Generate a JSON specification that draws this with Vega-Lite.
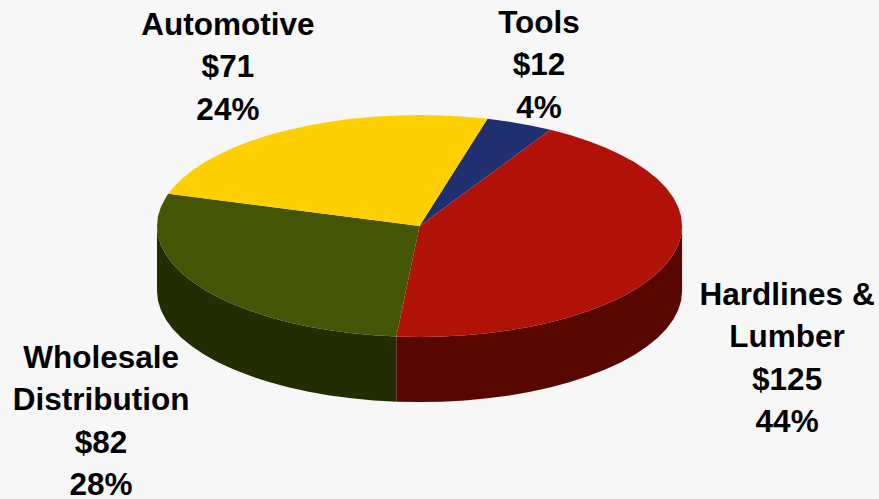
{
"$schema":"https://vega.github.io/schema/vega-lite/v6.json",
"width":879,"height":499,
"autosize":{"type":"none"},
"padding":0,
"background":"#f7f7f7",
"view":{"stroke":null},
"datasets":{
"slices":[
{"slice":"Automotive","label":["Automotive","$71","24%"],"value":71,"share":24,"labelU":-0.73,"labelV":1.802},
{"slice":"Tools","label":["Tools","$12","4%"],"value":12,"share":4,"labelU":0.455,"labelV":1.822},
{"slice":"Hardlines & Lumber","label":["Hardlines &","Lumber","$125","44%"],"value":125,"share":44,"labelU":1.4,"labelV":-0.63},
{"slice":"Wholesale Distribution","label":["Wholesale","Distribution","$82","28%"],"value":82,"share":28,"labelU":-1.213,"labelV":-1.198}
],
"outline":[
{"slice":"Tools","o":0,"u":0,"v":0},
{"slice":"Tools","o":1,"u":0.2588,"v":0.9659},
{"slice":"Tools","o":2,"u":0.342,"v":0.9397},
{"slice":"Tools","o":3,"u":0.4226,"v":0.9063},
{"slice":"Tools","o":4,"u":0.4984,"v":0.8669},

{"slice":"Hardlines & Lumber","o":0,"u":0,"v":0},
{"slice":"Hardlines & Lumber","o":1,"u":0.4984,"v":0.8669},
{"slice":"Hardlines & Lumber","o":2,"u":0.5736,"v":0.8192},
{"slice":"Hardlines & Lumber","o":3,"u":0.6428,"v":0.766},
{"slice":"Hardlines & Lumber","o":4,"u":0.7071,"v":0.7071},
{"slice":"Hardlines & Lumber","o":5,"u":0.766,"v":0.6428},
{"slice":"Hardlines & Lumber","o":6,"u":0.8192,"v":0.5736},
{"slice":"Hardlines & Lumber","o":7,"u":0.866,"v":0.5},
{"slice":"Hardlines & Lumber","o":8,"u":0.9063,"v":0.4226},
{"slice":"Hardlines & Lumber","o":9,"u":0.9397,"v":0.342},
{"slice":"Hardlines & Lumber","o":10,"u":0.9659,"v":0.2588},
{"slice":"Hardlines & Lumber","o":11,"u":0.9848,"v":0.1736},
{"slice":"Hardlines & Lumber","o":12,"u":0.9962,"v":0.0872},
{"slice":"Hardlines & Lumber","o":13,"u":1,"v":0},
{"slice":"Hardlines & Lumber","o":14,"u":0.9962,"v":-0.0872},
{"slice":"Hardlines & Lumber","o":15,"u":0.9848,"v":-0.1736},
{"slice":"Hardlines & Lumber","o":16,"u":0.9659,"v":-0.2588},
{"slice":"Hardlines & Lumber","o":17,"u":0.9397,"v":-0.342},
{"slice":"Hardlines & Lumber","o":18,"u":0.9063,"v":-0.4226},
{"slice":"Hardlines & Lumber","o":19,"u":0.866,"v":-0.5},
{"slice":"Hardlines & Lumber","o":20,"u":0.8192,"v":-0.5736},
{"slice":"Hardlines & Lumber","o":21,"u":0.766,"v":-0.6428},
{"slice":"Hardlines & Lumber","o":22,"u":0.7071,"v":-0.7071},
{"slice":"Hardlines & Lumber","o":23,"u":0.6428,"v":-0.766},
{"slice":"Hardlines & Lumber","o":24,"u":0.5736,"v":-0.8192},
{"slice":"Hardlines & Lumber","o":25,"u":0.5,"v":-0.866},
{"slice":"Hardlines & Lumber","o":26,"u":0.4226,"v":-0.9063},
{"slice":"Hardlines & Lumber","o":27,"u":0.342,"v":-0.9397},
{"slice":"Hardlines & Lumber","o":28,"u":0.2588,"v":-0.9659},
{"slice":"Hardlines & Lumber","o":29,"u":0.1736,"v":-0.9848},
{"slice":"Hardlines & Lumber","o":30,"u":0.0872,"v":-0.9962},
{"slice":"Hardlines & Lumber","o":31,"u":0,"v":-1},
{"slice":"Hardlines & Lumber","o":32,"u":-0.0872,"v":-0.9962},
{"slice":"Hardlines & Lumber","o":33,"u":-0.0884,"v":-0.9961},

{"slice":"Wholesale Distribution","o":0,"u":0,"v":0},
{"slice":"Wholesale Distribution","o":1,"u":-0.0884,"v":-0.9961},
{"slice":"Wholesale Distribution","o":2,"u":-0.1736,"v":-0.9848},
{"slice":"Wholesale Distribution","o":3,"u":-0.2588,"v":-0.9659},
{"slice":"Wholesale Distribution","o":4,"u":-0.342,"v":-0.9397},
{"slice":"Wholesale Distribution","o":5,"u":-0.4226,"v":-0.9063},
{"slice":"Wholesale Distribution","o":6,"u":-0.5,"v":-0.866},
{"slice":"Wholesale Distribution","o":7,"u":-0.5736,"v":-0.8192},
{"slice":"Wholesale Distribution","o":8,"u":-0.6428,"v":-0.766},
{"slice":"Wholesale Distribution","o":9,"u":-0.7071,"v":-0.7071},
{"slice":"Wholesale Distribution","o":10,"u":-0.766,"v":-0.6428},
{"slice":"Wholesale Distribution","o":11,"u":-0.8192,"v":-0.5736},
{"slice":"Wholesale Distribution","o":12,"u":-0.866,"v":-0.5},
{"slice":"Wholesale Distribution","o":13,"u":-0.9063,"v":-0.4226},
{"slice":"Wholesale Distribution","o":14,"u":-0.9397,"v":-0.342},
{"slice":"Wholesale Distribution","o":15,"u":-0.9659,"v":-0.2588},
{"slice":"Wholesale Distribution","o":16,"u":-0.9848,"v":-0.1736},
{"slice":"Wholesale Distribution","o":17,"u":-0.9962,"v":-0.0872},
{"slice":"Wholesale Distribution","o":18,"u":-1,"v":0},
{"slice":"Wholesale Distribution","o":19,"u":-0.9962,"v":0.0872},
{"slice":"Wholesale Distribution","o":20,"u":-0.9848,"v":0.1736},
{"slice":"Wholesale Distribution","o":21,"u":-0.9659,"v":0.2588},
{"slice":"Wholesale Distribution","o":22,"u":-0.957,"v":0.2901},

{"slice":"Automotive","o":0,"u":0,"v":0},
{"slice":"Automotive","o":1,"u":-0.957,"v":0.2901},
{"slice":"Automotive","o":2,"u":-0.9397,"v":0.342},
{"slice":"Automotive","o":3,"u":-0.9063,"v":0.4226},
{"slice":"Automotive","o":4,"u":-0.866,"v":0.5},
{"slice":"Automotive","o":5,"u":-0.8192,"v":0.5736},
{"slice":"Automotive","o":6,"u":-0.766,"v":0.6428},
{"slice":"Automotive","o":7,"u":-0.7071,"v":0.7071},
{"slice":"Automotive","o":8,"u":-0.6428,"v":0.766},
{"slice":"Automotive","o":9,"u":-0.5736,"v":0.8192},
{"slice":"Automotive","o":10,"u":-0.5,"v":0.866},
{"slice":"Automotive","o":11,"u":-0.4226,"v":0.9063},
{"slice":"Automotive","o":12,"u":-0.342,"v":0.9397},
{"slice":"Automotive","o":13,"u":-0.2588,"v":0.9659},
{"slice":"Automotive","o":14,"u":-0.1736,"v":0.9848},
{"slice":"Automotive","o":15,"u":-0.0872,"v":0.9962},
{"slice":"Automotive","o":16,"u":0,"v":1},
{"slice":"Automotive","o":17,"u":0.0872,"v":0.9962},
{"slice":"Automotive","o":18,"u":0.1736,"v":0.9848},
{"slice":"Automotive","o":19,"u":0.2588,"v":0.9659}
],
"wall":[
{"slice":"Hardlines & Lumber","u":1,"v":0,"base":-0.586},
{"slice":"Hardlines & Lumber","u":0.9962,"v":-0.0872,"base":-0.6732},
{"slice":"Hardlines & Lumber","u":0.9848,"v":-0.1736,"base":-0.7596},
{"slice":"Hardlines & Lumber","u":0.9659,"v":-0.2588,"base":-0.8448},
{"slice":"Hardlines & Lumber","u":0.9397,"v":-0.342,"base":-0.928},
{"slice":"Hardlines & Lumber","u":0.9063,"v":-0.4226,"base":-1.0086},
{"slice":"Hardlines & Lumber","u":0.866,"v":-0.5,"base":-1.086},
{"slice":"Hardlines & Lumber","u":0.8192,"v":-0.5736,"base":-1.1596},
{"slice":"Hardlines & Lumber","u":0.766,"v":-0.6428,"base":-1.2288},
{"slice":"Hardlines & Lumber","u":0.7071,"v":-0.7071,"base":-1.2931},
{"slice":"Hardlines & Lumber","u":0.6428,"v":-0.766,"base":-1.352},
{"slice":"Hardlines & Lumber","u":0.5736,"v":-0.8192,"base":-1.4052},
{"slice":"Hardlines & Lumber","u":0.5,"v":-0.866,"base":-1.452},
{"slice":"Hardlines & Lumber","u":0.4226,"v":-0.9063,"base":-1.4923},
{"slice":"Hardlines & Lumber","u":0.342,"v":-0.9397,"base":-1.5257},
{"slice":"Hardlines & Lumber","u":0.2588,"v":-0.9659,"base":-1.5519},
{"slice":"Hardlines & Lumber","u":0.1736,"v":-0.9848,"base":-1.5708},
{"slice":"Hardlines & Lumber","u":0.0872,"v":-0.9962,"base":-1.5822},
{"slice":"Hardlines & Lumber","u":0,"v":-1,"base":-1.586},
{"slice":"Hardlines & Lumber","u":-0.0872,"v":-0.9962,"base":-1.5822},
{"slice":"Hardlines & Lumber","u":-0.0884,"v":-0.9961,"base":-1.5821},
{"slice":"Wholesale Distribution","u":-0.0884,"v":-0.9961,"base":-1.5821},
{"slice":"Wholesale Distribution","u":-0.1736,"v":-0.9848,"base":-1.5708},
{"slice":"Wholesale Distribution","u":-0.2588,"v":-0.9659,"base":-1.5519},
{"slice":"Wholesale Distribution","u":-0.342,"v":-0.9397,"base":-1.5257},
{"slice":"Wholesale Distribution","u":-0.4226,"v":-0.9063,"base":-1.4923},
{"slice":"Wholesale Distribution","u":-0.5,"v":-0.866,"base":-1.452},
{"slice":"Wholesale Distribution","u":-0.5736,"v":-0.8192,"base":-1.4052},
{"slice":"Wholesale Distribution","u":-0.6428,"v":-0.766,"base":-1.352},
{"slice":"Wholesale Distribution","u":-0.7071,"v":-0.7071,"base":-1.2931},
{"slice":"Wholesale Distribution","u":-0.766,"v":-0.6428,"base":-1.2288},
{"slice":"Wholesale Distribution","u":-0.8192,"v":-0.5736,"base":-1.1596},
{"slice":"Wholesale Distribution","u":-0.866,"v":-0.5,"base":-1.086},
{"slice":"Wholesale Distribution","u":-0.9063,"v":-0.4226,"base":-1.0086},
{"slice":"Wholesale Distribution","u":-0.9397,"v":-0.342,"base":-0.928},
{"slice":"Wholesale Distribution","u":-0.9659,"v":-0.2588,"base":-0.8448},
{"slice":"Wholesale Distribution","u":-0.9848,"v":-0.1736,"base":-0.7596},
{"slice":"Wholesale Distribution","u":-0.9962,"v":-0.0872,"base":-0.6732},
{"slice":"Wholesale Distribution","u":-1,"v":0,"base":-0.586}
]
},
"layer":[
{
"description":"Side wall of the disc along its front edge",
"data":{"name":"wall"},
"mark":{"type":"area","interpolate":"linear","line":false,"point":false},
"encoding":{
"x":{"field":"u","type":"quantitative","scale":{"domain":[-1.598,1.75]},"axis":null},
"y":{"field":"v","type":"quantitative","scale":{"domain":[-2.459,2.036]},"axis":null},
"y2":{"field":"base"},
"fill":{"field":"slice","type":"nominal","legend":null,
"scale":{"domain":["Hardlines & Lumber","Wholesale Distribution"],"range":["#580700","#222d02"]}}
}
},
{
"description":"Top face wedges",
"data":{"name":"outline"},
"mark":{"type":"line","filled":true,"interpolate":"linear","opacity":1},
"encoding":{
"x":{"field":"u","type":"quantitative","scale":{"domain":[-1.598,1.75]},"axis":null},
"y":{"field":"v","type":"quantitative","scale":{"domain":[-2.459,2.036]},"axis":null},
"order":{"field":"o","type":"quantitative"},
"color":{"field":"slice","type":"nominal","legend":null,
"scale":{"domain":["Tools","Hardlines & Lumber","Wholesale Distribution","Automotive"],"range":["#1f2f6f","#b01208","#445506","#ffd000"]}}
}
},
{
"description":"Name, amount and share beside each wedge",
"data":{"name":"slices"},
"mark":{"type":"text","font":"Liberation Sans","fontWeight":"bold","fontSize":31.5,"lineHeight":42.4,"align":"center","baseline":"middle","color":"#000000"},
"encoding":{
"x":{"field":"labelU","type":"quantitative","scale":{"domain":[-1.598,1.75]},"axis":null},
"y":{"field":"labelV","type":"quantitative","scale":{"domain":[-2.459,2.036]},"axis":null},
"text":{"field":"label"}
}
}
],
"resolve":{"scale":{"color":"independent","fill":"independent"}}
}
